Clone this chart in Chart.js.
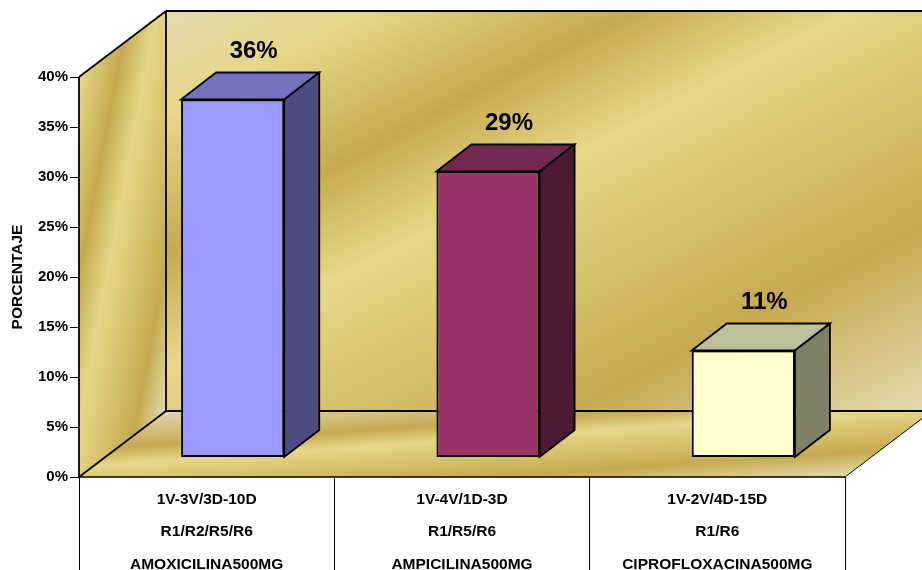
<!DOCTYPE html>
<html>
<head>
<meta charset="utf-8">
<style>
  html, body { margin: 0; padding: 0; background: #fff; }
  canvas { display: block; }
</style>
<script src="https://cdn.jsdelivr.net/npm/chart.js@4"></script>
</head>
<body>
<canvas id="grafico" width="922" height="570"></canvas>
<script>
var esquemas = ["1V-3V/3D-10D", "1V-4V/1D-3D", "1V-2V/4D-15D"];
var reacciones = ["R1/R2/R5/R6", "R1/R5/R6", "R1/R6"];
var farmacos = ["AMOXICILINA500MG", "AMPICILINA500MG", "CIPROFLOXACINA500MG"];
var valores = [35.8, 28.6, 10.7];
var coloresFrente = ["#9999ff", "#993366", "#ffffcc"];
var coloresTapa = ["#7373bf", "#732650", "#bfbf99"];
var coloresLado = ["#4d4d80", "#4d1933", "#808066"];

var FUENTE = "'Liberation Sans', Arial, sans-serif";
var ORO = "#e6d888", ORO_OSCURO = "#c6aa50", ORO_PALIDO = "#e3dab0";

// profundidad de las paredes y de las barras
var FONDO_X = 87, FONDO_Y = 66;
var BARRA_X = 35, BARRA_Y = 27;
var DESP_X = 26, DESP_Y = 19.5;

function poligono(ctx, puntos, relleno, borde, grosor) {
    ctx.beginPath();
    ctx.moveTo(puntos[0][0], puntos[0][1]);
    for (var i = 1; i < puntos.length; i++) ctx.lineTo(puntos[i][0], puntos[i][1]);
    ctx.closePath();
    if (relleno) { ctx.fillStyle = relleno; ctx.fill(); }
    if (borde) { ctx.strokeStyle = borde; ctx.lineWidth = grosor; ctx.lineJoin = "miter"; ctx.stroke(); }
}

function linea(ctx, x1, y1, x2, y2, grosor) {
    ctx.beginPath();
    ctx.moveTo(x1, y1);
    ctx.lineTo(x2, y2);
    ctx.strokeStyle = "#000";
    ctx.lineWidth = grosor;
    ctx.stroke();
}

function degradado(ctx, x0, y0, x1, y1, paradas) {
    var g = ctx.createLinearGradient(x0, y0, x1, y1);
    paradas.forEach(function (p) { g.addColorStop(p[0], p[1]); });
    return g;
}

var paredes = {
    id: "paredes",
    beforeDatasetsDraw: function (chart) {
        var ctx = chart.ctx;
        var izq = chart.scales.x.left, der = chart.scales.x.right;
        var arriba = chart.scales.y.getPixelForValue(40), abajo = chart.scales.y.getPixelForValue(0);

        ctx.save();
        // pared del fondo
        poligono(ctx, [[izq + FONDO_X, arriba - FONDO_Y], [der + FONDO_X, arriba - FONDO_Y],
                       [der + FONDO_X, abajo - FONDO_Y], [izq + FONDO_X, abajo - FONDO_Y]],
            degradado(ctx, izq + FONDO_X, arriba - FONDO_Y, izq + FONDO_X + 324.6, arriba - FONDO_Y + 624, [
                [0, ORO_PALIDO], [0.13, ORO], [0.306, ORO_OSCURO], [0.449, ORO], [0.77, ORO_OSCURO], [1, ORO_PALIDO]
            ]));
        // pared lateral
        poligono(ctx, [[izq, arriba], [izq + FONDO_X, arriba - FONDO_Y],
                       [izq + FONDO_X, abajo - FONDO_Y], [izq, abajo]],
            degradado(ctx, izq, arriba, izq + 144.8, arriba + 27.5, [
                [0, ORO], [0.253, ORO_OSCURO], [0.44, ORO], [0.82, ORO_OSCURO], [1, ORO_PALIDO]
            ]));
        // piso
        poligono(ctx, [[izq, abajo], [izq + FONDO_X, abajo - FONDO_Y],
                       [der + FONDO_X, abajo - FONDO_Y], [der, abajo]],
            degradado(ctx, izq + FONDO_X, abajo - FONDO_Y, izq + FONDO_X + 7.9, abajo - FONDO_Y + 112.9, [
                [0, ORO_PALIDO], [0.295, ORO_OSCURO], [0.436, ORO], [0.788, ORO_OSCURO], [1, ORO_PALIDO]
            ]));

        // contornos
        linea(ctx, izq, arriba, izq + FONDO_X, arriba - FONDO_Y, 1.8);
        linea(ctx, izq + FONDO_X, arriba - FONDO_Y, der + FONDO_X, arriba - FONDO_Y, 1.8);
        linea(ctx, izq + FONDO_X, arriba - FONDO_Y, izq + FONDO_X, abajo - FONDO_Y, 1.8);
        linea(ctx, izq + FONDO_X, abajo - FONDO_Y, der + FONDO_X, abajo - FONDO_Y, 1.8);
        linea(ctx, izq, abajo, izq + FONDO_X, abajo - FONDO_Y, 1.8);
        linea(ctx, der, abajo, der + FONDO_X, abajo - FONDO_Y, 1);
        linea(ctx, izq, arriba, izq, abajo, 1.8);
        linea(ctx, izq, abajo, der, abajo, 1.5);

        // separadores de la tabla de categorias
        var paso = (der - izq) / esquemas.length;
        for (var i = 0; i <= esquemas.length; i++) {
            linea(ctx, Math.floor(izq + paso * i) + 0.5, abajo, Math.floor(izq + paso * i) + 0.5, chart.height, 1);
        }

        // caras de las barras, corridas hacia el fondo
        ctx.translate(DESP_X, -DESP_Y);
        var barras = chart.getDatasetMeta(0).data;
        barras.forEach(function (b, n) {
            var x1 = b.x - b.width / 2, x2 = b.x + b.width / 2;
            poligono(ctx, [[x1, b.y], [x1 + BARRA_X, b.y - BARRA_Y], [x2 + BARRA_X, b.y - BARRA_Y], [x2, b.y]],
                coloresTapa[n], "#000", 1.8);
            poligono(ctx, [[x2, b.y], [x2 + BARRA_X, b.y - BARRA_Y], [x2 + BARRA_X, b.base - BARRA_Y], [x2, b.base]],
                coloresLado[n], "#000", 1.8);
        });
        // queda trasladado para que Chart.js dibuje el frente de las barras
    },
    afterDatasetsDraw: function (chart) {
        var ctx = chart.ctx;
        ctx.restore();

        ctx.save();
        ctx.fillStyle = "#000";
        ctx.font = "bold 24px " + FUENTE;
        ctx.textAlign = "center";
        ctx.textBaseline = "middle";
        chart.getDatasetMeta(0).data.forEach(function (b, n) {
            ctx.fillText(Math.round(valores[n]) + "%", b.x + DESP_X + 21, b.y - DESP_Y - 48.5);
        });
        ctx.restore();
    }
};

new Chart(document.getElementById("grafico"), {
    type: "bar",
    data: {
        labels: esquemas.map(function (e, i) { return [e, reacciones[i], farmacos[i]]; }),
        datasets: [{
            data: valores,
            backgroundColor: coloresFrente,
            borderColor: "#000",
            borderWidth: 2,
            borderSkipped: false,
            categoryPercentage: 1,
            barPercentage: 0.404,
            clip: false
        }]
    },
    options: {
        responsive: false,
        animation: false,
        layout: { padding: { top: 77, right: 77 } },
        plugins: { legend: { display: false }, tooltip: { enabled: false } },
        scales: {
            x: {
                afterFit: function (escala) { escala.height = 93; },
                grid: { display: false },
                border: { display: false },
                ticks: {
                    color: "#000",
                    autoSkip: false,
                    maxRotation: 0,
                    padding: -2,
                    font: { family: FUENTE, weight: "bold", size: 15.5, lineHeight: "32.5px" }
                }
            },
            y: {
                min: 0,
                max: 40,
                afterFit: function (escala) { escala.width = 79; },
                grid: { drawOnChartArea: false, drawTicks: true, tickLength: 9, color: "#000", lineWidth: 1 },
                border: { display: false },
                ticks: {
                    stepSize: 5,
                    color: "#000",
                    padding: 2,
                    font: { family: FUENTE, weight: "bold", size: 15 },
                    callback: function (v) { return v + "%"; }
                },
                title: {
                    display: true,
                    text: "PORCENTAJE",
                    color: "#000",
                    padding: { top: 8, bottom: 0 },
                    font: { family: FUENTE, weight: "bold", size: 15.5 }
                }
            }
        }
    },
    plugins: [paredes]
});
</script>
</body>
</html>
